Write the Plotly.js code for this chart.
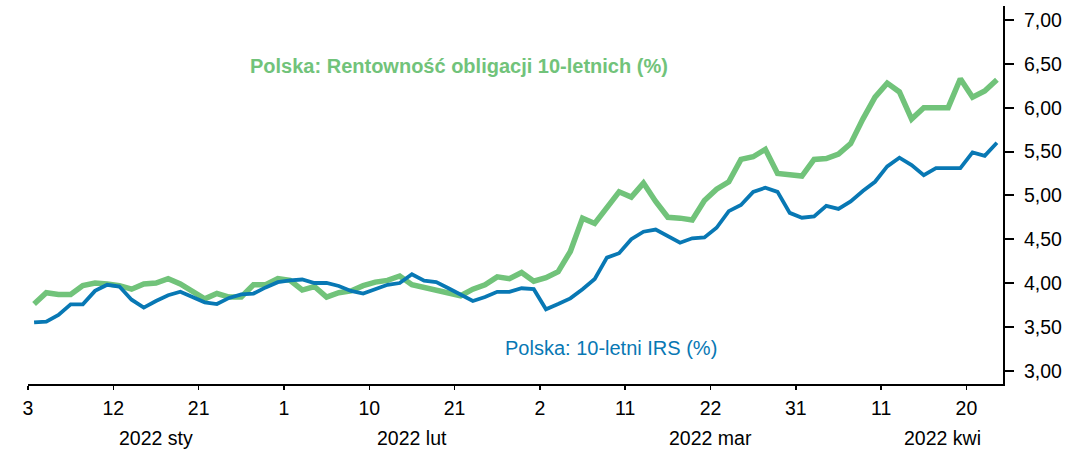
<!DOCTYPE html>
<html>
<head>
<meta charset="utf-8">
<script src="https://cdn.plot.ly/plotly-3.0.1.min.js"></script>
<style>
  html, body { margin: 0; padding: 0; background: #ffffff; }
  #chart { width: 1086px; height: 450px; }
</style>
</head>
<body>
<div id="chart"></div>
<script>
// Business days shown on the category axis
const dates = [
  "2022-01-03","2022-01-04","2022-01-05","2022-01-06","2022-01-07",
  "2022-01-10","2022-01-11","2022-01-12","2022-01-13","2022-01-14",
  "2022-01-17","2022-01-18","2022-01-19","2022-01-20","2022-01-21",
  "2022-01-24","2022-01-25","2022-01-26","2022-01-27","2022-01-28",
  "2022-01-31","2022-02-01","2022-02-02","2022-02-03","2022-02-04",
  "2022-02-07","2022-02-08","2022-02-09","2022-02-10","2022-02-11",
  "2022-02-14","2022-02-15","2022-02-16","2022-02-17","2022-02-18",
  "2022-02-21","2022-02-22","2022-02-23","2022-02-24","2022-02-25",
  "2022-02-28","2022-03-01","2022-03-02","2022-03-03","2022-03-04",
  "2022-03-07","2022-03-08","2022-03-09","2022-03-10","2022-03-11",
  "2022-03-14","2022-03-15","2022-03-16","2022-03-17","2022-03-18",
  "2022-03-21","2022-03-22","2022-03-23","2022-03-24","2022-03-25",
  "2022-03-28","2022-03-29","2022-03-30","2022-03-31","2022-04-01",
  "2022-04-04","2022-04-05","2022-04-06","2022-04-07","2022-04-08",
  "2022-04-11","2022-04-12","2022-04-13","2022-04-14","2022-04-15",
  "2022-04-18","2022-04-19","2022-04-20","2022-04-21","2022-04-22"
];

// Polska: Rentowność obligacji 10-letnich (%)
const bondYield = [
  3.76, 3.89, 3.87, 3.87, 3.97, 4.00, 3.99, 3.97, 3.93, 3.99,
  4.00, 4.05, 3.99, 3.91, 3.82, 3.88, 3.84, 3.84, 3.98, 3.98,
  4.05, 4.03, 3.92, 3.96, 3.84, 3.89, 3.91, 3.97, 4.01, 4.03,
  4.08, 3.98, 3.95, 3.91, 3.88, 3.855, 3.93, 3.98, 4.07, 4.05,
  4.12, 4.02, 4.06, 4.13, 4.36, 4.74, 4.68, 4.86, 5.04, 4.98,
  5.14, 4.93, 4.75, 4.74, 4.72, 4.94, 5.07, 5.155, 5.41, 5.44,
  5.525, 5.25, 5.24, 5.22, 5.41, 5.42, 5.47, 5.59, 5.87, 6.12,
  6.28, 6.18, 5.87, 6.00, 6.00, 6.00, 6.33, 6.12, 6.19, 6.32
];

// Polska: 10-letni IRS (%)
const irs10 = [
  3.55, 3.56, 3.635, 3.757, 3.757, 3.91, 3.98, 3.96, 3.81, 3.72,
  3.795, 3.86, 3.90, 3.84, 3.78, 3.76, 3.83, 3.87, 3.88, 3.95,
  4.01, 4.03, 4.04, 4.00, 4.00, 3.966, 3.91, 3.88, 3.93, 3.98,
  4.00, 4.10, 4.026, 4.01, 3.94, 3.87, 3.795, 3.84, 3.90, 3.90,
  3.94, 3.93, 3.70, 3.76, 3.825, 3.93, 4.046, 4.29, 4.34, 4.50,
  4.585, 4.61, 4.535, 4.46, 4.51, 4.52, 4.63, 4.82, 4.89, 5.04,
  5.087, 5.04, 4.80, 4.745, 4.76, 4.88, 4.845, 4.93, 5.05, 5.155,
  5.33, 5.43, 5.345, 5.23, 5.31, 5.31, 5.31, 5.49, 5.45, 5.60
];

// Labelled x ticks (dates) and the first labelled tick of each month
const tickDates = ["2022-01-03","2022-01-12","2022-01-21","2022-02-01","2022-02-10",
  "2022-02-21","2022-03-02","2022-03-11","2022-03-22","2022-03-31","2022-04-11","2022-04-20"];
const monthStartDates = ["2022-01-03","2022-02-01","2022-03-02","2022-04-11"];
const monthLabels = ["2022 sty","2022 lut","2022 mar","2022 kwi"];

const yTicks = [3.0, 3.5, 4.0, 4.5, 5.0, 5.5, 6.0, 6.5, 7.0];

const seriesNames = ["Polska: Rentowność obligacji 10-letnich (%)", "Polska: 10-letni IRS (%)"];

// ---- build ----
const GREEN = "#71C37A";
const BLUE = "#0878B4";
const FONT = "Liberation Sans, Arial, sans-serif";

const xs = dates.map((d, i) => i + 0.5);
const xEnd = dates.length;
const tickPos = tickDates.map(d => dates.indexOf(d));
const tickText = tickDates.map(d => String(parseInt(d.slice(8, 10), 10)));
const monthPos = monthStartDates.map(d => dates.indexOf(d));

const traces = [
  { x: xs, y: bondYield, type: "scatter", mode: "lines", name: seriesNames[0],
    line: { color: GREEN, width: 5.5 }, hoverinfo: "skip" },
  { x: xs, y: irs10, type: "scatter", mode: "lines", name: seriesNames[1],
    line: { color: BLUE, width: 3.8 }, hoverinfo: "skip" }
];

const annotations = [];
monthLabels.forEach((lab, k) => {
  const a = monthPos[k];
  const b = k + 1 < monthPos.length ? monthPos[k + 1] : xEnd;
  annotations.push({
    x: (a + b) / 2, xref: "x", y: -0.143, yref: "paper",
    text: lab, showarrow: false, xanchor: "center", yanchor: "middle",
    font: { family: FONT, size: 19.5, color: "#000000" }
  });
});
annotations.push({
  x: 35.4, xref: "x", y: 6.48, yref: "y", text: "<b>" + seriesNames[0] + "</b>",
  showarrow: false, xanchor: "center", yanchor: "middle",
  font: { family: FONT, size: 20, color: GREEN }
});
annotations.push({
  x: 47.8, xref: "x", y: 3.26, yref: "y", text: seriesNames[1],
  showarrow: false, xanchor: "center", yanchor: "middle",
  font: { family: FONT, size: 20, color: BLUE }
});

const layout = {
  width: 1086, height: 450,
  margin: { l: 28, r: 83, t: 6, b: 66 },
  paper_bgcolor: "#ffffff", plot_bgcolor: "#ffffff",
  showlegend: false,
  separators: ", ",
  font: { family: FONT, size: 19.5, color: "#000000" },
  xaxis: {
    range: [0, xEnd], showgrid: false, zeroline: false,
    showline: true, linecolor: "#000000", linewidth: 2,
    ticks: "outside", ticklen: 4, tickwidth: 1.5, tickcolor: "#000000",
    tickmode: "array", tickvals: tickPos, ticktext: tickText,
    ticklabelstandoff: 2,
    tickfont: { family: FONT, size: 19.5, color: "#000000" },
    fixedrange: true
  },
  xaxis2: {
    overlaying: "x", anchor: "y", side: "bottom",
    range: [0, xEnd], showgrid: false, zeroline: false, showline: false,
    ticks: "outside", ticklen: 9, tickwidth: 2, tickcolor: "#000000",
    tickmode: "array", tickvals: monthPos, showticklabels: false,
    fixedrange: true
  },
  yaxis: {
    side: "right", range: [2.848, 7.16], showgrid: false, zeroline: false,
    showline: true, linecolor: "#000000", linewidth: 2,
    ticks: "outside", ticklen: 9, tickwidth: 2, tickcolor: "#000000",
    tickmode: "array", tickvals: yTicks, tickformat: ".2f",
    ticklabelstandoff: 6,
    tickfont: { family: FONT, size: 19.5, color: "#000000" },
    fixedrange: true
  },
  annotations: annotations
};

Plotly.newPlot("chart", traces, layout, { displayModeBar: false, staticPlot: true });
</script>
</body>
</html>
